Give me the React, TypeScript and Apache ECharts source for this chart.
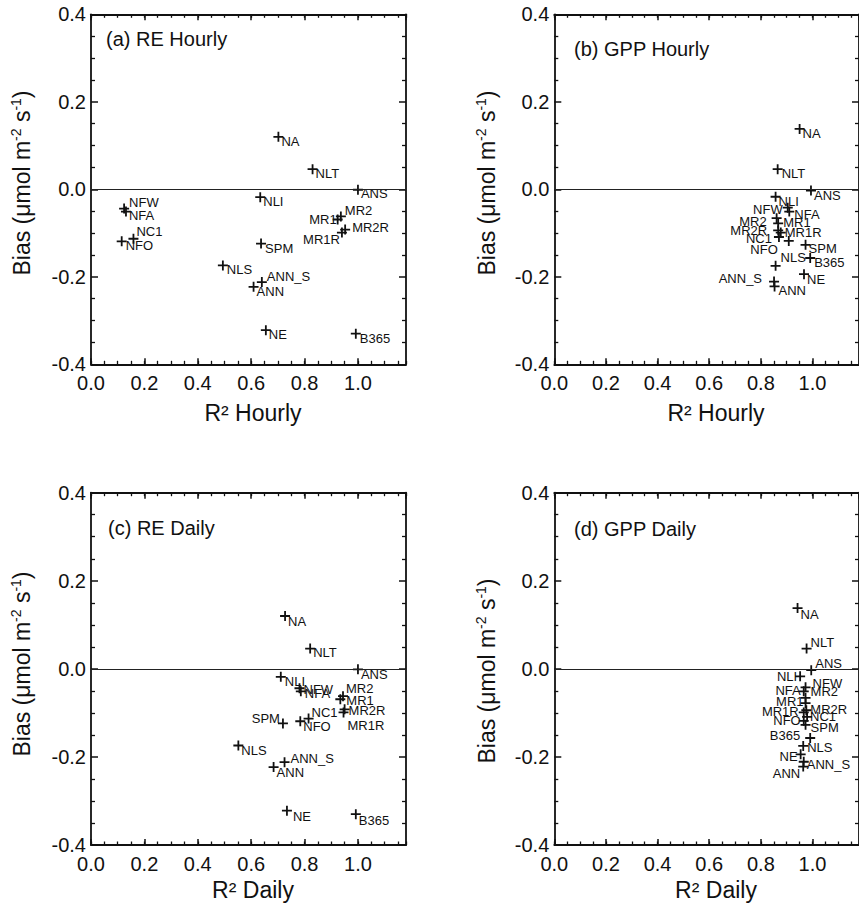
import React, { useEffect, useRef } from 'react';
import * as echarts from 'echarts';

// ---- data ----
const sites = ['NA', 'NLT', 'ANS', 'NLI', 'NFW', 'NFA', 'MR1', 'MR2', 'MR2R', 'MR1R', 'NC1', 'NFO', 'SPM', 'NLS', 'ANN_S', 'ANN', 'NE', 'B365'];

const reBias = [0.120, 0.046, -0.001, -0.018, -0.044, -0.051, -0.069, -0.062, -0.092, -0.099, -0.113, -0.119, -0.124, -0.174, -0.212, -0.223, -0.322, -0.330];
const gppBias = [0.138, 0.046, -0.003, -0.017, -0.042, -0.051, -0.078, -0.066, -0.094, -0.099, -0.109, -0.118, -0.127, -0.175, -0.211, -0.222, -0.194, -0.157];

const r2ReHourly = [0.702, 0.830, 1.000, 0.634, 0.124, 0.131, 0.924, 0.936, 0.952, 0.940, 0.159, 0.115, 0.637, 0.494, 0.640, 0.609, 0.655, 0.992];
const r2GppHourly = [0.950, 0.865, 0.994, 0.857, 0.904, 0.910, 0.867, 0.861, 0.867, 0.877, 0.870, 0.908, 0.973, 0.857, 0.851, 0.853, 0.967, 0.991];
const r2ReDaily = [0.727, 0.821, 1.000, 0.711, 0.781, 0.786, 0.934, 0.944, 0.950, 0.946, 0.815, 0.784, 0.719, 0.552, 0.725, 0.684, 0.734, 0.992];
const r2GppDaily = [0.942, 0.977, 0.995, 0.952, 0.973, 0.966, 0.973, 0.973, 0.976, 0.966, 0.979, 0.966, 0.973, 0.964, 0.966, 0.964, 0.954, 0.991];

const panelTitles = ['(a) RE Hourly', '(b) GPP Hourly', '(c) RE Daily', '(d) GPP Daily'];
const xTitles = ['R\u00b2 Hourly', 'R\u00b2 Hourly', 'R\u00b2 Daily', 'R\u00b2 Daily'];

// label placement per site: side, dx, dy
const labelSpotsA = [['R', -2, 5], ['R', -2, 4], ['R', -2, 4], ['R', -2, 4], ['R', 0, -6], ['R', -2, 4], ['L', 4, 0], ['R', -1, -6], ['R', 2, -2], ['L', 3, 7], ['R', -2, -7], ['R', -1, 4], ['R', -1, 5], ['R', -1, 4], ['R', 0, -6], ['R', -2, 5], ['R', -2, 4], ['R', -1, 5]];
const labelSpotsB = [['R', -2, 5], ['R', -1, 4], ['R', -2, 5], ['R', -2, 5], ['L', 0, 2], ['R', 0, 3], ['R', 0, -1], ['L', -5, 3], ['L', -6, 0], ['R', -1, 0], ['L', -2, 2], ['L', -6, 9], ['R', -2, 4], ['R', 0, -8], ['L', -7, -3], ['R', -1, 4], ['R', -2, 5], ['R', -1, 5]];
const labelSpotsC = [['R', -2, 5], ['R', -2, 4], ['R', -2, 5], ['R', -1, 5], ['R', -1, 1], ['R', -1, 2], ['R', 1, 1], ['R', -2, -8], ['R', -1, 1], ['R', -1, 13], ['R', -2, -6], ['R', -2, 5], ['L', 2, -5], ['R', -2, 5], ['R', 1, -4], ['R', -2, 5], ['R', 1, 6], ['R', -2, 6]];
const labelSpotsD = [['R', -2, 6], ['R', -1, -6], ['R', -1, -7], ['L', 2, 0], ['R', 2, -4], ['L', 2, -1], ['L', 3, -2], ['R', 0, -6], ['R', -1, -1], ['L', 0, -1], ['R', -2, 0], ['L', 2, 0], ['R', 0, 3], ['R', -1, 2], ['R', -2, 3], ['L', 2, 7], ['L', 2, 2], ['L', -5, -2]];

// ---- layout ----
const FONT = '"Liberation Sans", Arial, Helvetica, sans-serif';
const INK = '#111';
const boxes = [
  { left: 91, top: 14.3, width: 315, height: 350 },
  { left: 554.3, top: 14.3, width: 316, height: 350 },
  { left: 91, top: 492.7, width: 315, height: 352.3 },
  { left: 554.3, top: 492.7, width: 316, height: 352.3 },
];
const titlePos = [[106, 39], [574, 49], [108, 528], [574, 529]];
const xTitlePos = [[253, 413], [716, 413], [253, 890], [716, 890]];
const yTitlePos = [[22, 183], [487, 183], [22, 664], [487, 671]];

const PLUS = 'path://M4.1,0H5.9V4.1H10V5.9H5.9V10H4.1V5.9H0V4.1H4.1Z';

function fmt(v: number) {
  if (Math.abs(v) < 1e-9) return '0.0';
  return v.toFixed(1);
}

function buildOption() {
  const xs = [r2ReHourly, r2GppHourly, r2ReDaily, r2GppDaily];
  const ys = [reBias, gppBias, reBias, gppBias];
  const spots = [labelSpotsA, labelSpotsB, labelSpotsC, labelSpotsD];

  const grid: any[] = [];
  const xAxis: any[] = [];
  const yAxis: any[] = [];
  const series: any[] = [];
  const graphic: any[] = [];

  const lineStyle = { color: INK, width: 1.8 };

  boxes.forEach((b, i) => {
    grid.push({ left: b.left, top: b.top, width: b.width, height: b.height, containLabel: false });
    const baseX = {
      type: 'value', gridIndex: i, min: 0, max: 1.18,
      splitLine: { show: false },
    };
    // bottom major
    xAxis.push({
      ...baseX, position: 'bottom', interval: 0.2,
      axisLine: { show: true, onZero: false, lineStyle },
      axisTick: { show: true, inside: true, length: 6, lineStyle: { color: INK, width: 1.5 } },
      axisLabel: {
        show: true, margin: 9, fontSize: 20, fontFamily: FONT, color: INK,
        showMaxLabel: false,
        formatter: (v: number) => (v > 1.001 ? '' : fmt(v)),
      },
    });
    // bottom minor
    xAxis.push({
      ...baseX, position: 'bottom', interval: 0.05,
      axisLine: { show: false, onZero: false },
      axisTick: { show: true, inside: true, length: 3.5, lineStyle: { color: INK, width: 1.3 } },
      axisLabel: { show: false },
    });
    // top major
    xAxis.push({
      ...baseX, position: 'top', interval: 0.2,
      axisLine: { show: true, onZero: false, lineStyle },
      axisTick: { show: true, inside: true, length: 6, lineStyle: { color: INK, width: 1.5 } },
      axisLabel: { show: false },
    });
    // top minor
    xAxis.push({
      ...baseX, position: 'top', interval: 0.05,
      axisLine: { show: false, onZero: false },
      axisTick: { show: true, inside: true, length: 3.5, lineStyle: { color: INK, width: 1.3 } },
      axisLabel: { show: false },
    });

    const baseY = {
      type: 'value', gridIndex: i, min: -0.4, max: 0.4, interval: 0.2,
      splitLine: { show: false },
      axisLine: { show: true, onZero: false, lineStyle },
      axisTick: { show: true, inside: true, length: 7, lineStyle: { color: INK, width: 1.5 } },
      minorTick: { show: true, splitNumber: 4, length: 4, lineStyle: { color: INK, width: 1.3 } },
    };
    yAxis.push({
      ...baseY, position: 'left',
      axisLabel: { show: true, margin: 5, fontSize: 20, fontFamily: FONT, color: INK, formatter: (v: number) => fmt(v) },
    });
    yAxis.push({ ...baseY, position: 'right', axisLabel: { show: false } });

    const data = sites.map((name, k) => {
      const s = spots[i][k] as [string, number, number];
      return {
        name,
        value: [xs[i][k], ys[i][k]],
        label: { position: s[0] === 'R' ? 'right' : 'left', offset: [s[1], s[2]] },
      };
    });

    series.push({
      type: 'scatter',
      xAxisIndex: i * 4,
      yAxisIndex: i * 2,
      symbol: PLUS,
      symbolSize: 10,
      itemStyle: { color: INK, opacity: 1 },
      label: {
        show: true, formatter: '{b}', distance: 0,
        fontSize: 13, fontFamily: FONT, color: INK,
      },
      emphasis: { disabled: true },
      data,
      markLine: {
        silent: true,
        symbol: ['none', 'none'],
        label: { show: false },
        lineStyle: { color: '#222', width: 1, type: 'solid' },
        emphasis: { disabled: true },
        data: [{ yAxis: 0 }],
      },
      z: 3,
    });

    graphic.push({
      type: 'text', x: titlePos[i][0], y: titlePos[i][1],
      style: {
        text: panelTitles[i], fontSize: 20, fontFamily: FONT, fill: INK,
        align: 'left', textAlign: 'left', verticalAlign: 'middle', textVerticalAlign: 'middle',
      },
    });
    graphic.push({
      type: 'text', x: xTitlePos[i][0], y: xTitlePos[i][1],
      style: {
        text: xTitles[i], fontSize: 23, fontFamily: FONT, fill: INK,
        align: 'center', textAlign: 'center', verticalAlign: 'middle', textVerticalAlign: 'middle',
      },
    });
    graphic.push({
      type: 'text', x: yTitlePos[i][0], y: yTitlePos[i][1], rotation: Math.PI / 2,
      style: {
        text: '{m|Bias (\u03bcmol m}{s|-2}{m| s}{s|-1}{m|)}',
        align: 'center', textAlign: 'center', verticalAlign: 'middle', textVerticalAlign: 'middle',
        fontFamily: FONT, fill: INK,
        rich: {
          m: { fontSize: 23, fontFamily: FONT, fill: INK, lineHeight: 26 },
          s: { fontSize: 14, fontFamily: FONT, fill: INK, lineHeight: 16, verticalAlign: 'top' },
        },
      },
    });
  });

  return {
    animation: false,
    backgroundColor: '#ffffff',
    grid, xAxis, yAxis, series, graphic,
  };
}

export default function App() {
  const ref = useRef<HTMLDivElement>(null);
  useEffect(() => {
    document.body.style.margin = '0';
    if (!ref.current) return;
    const chart = echarts.init(ref.current, undefined, { renderer: 'svg' });
    chart.setOption(buildOption() as any);
    return () => chart.dispose();
  }, []);
  return <div ref={ref} style={{ width: 859, height: 903, overflow: 'hidden' }} />;
}
